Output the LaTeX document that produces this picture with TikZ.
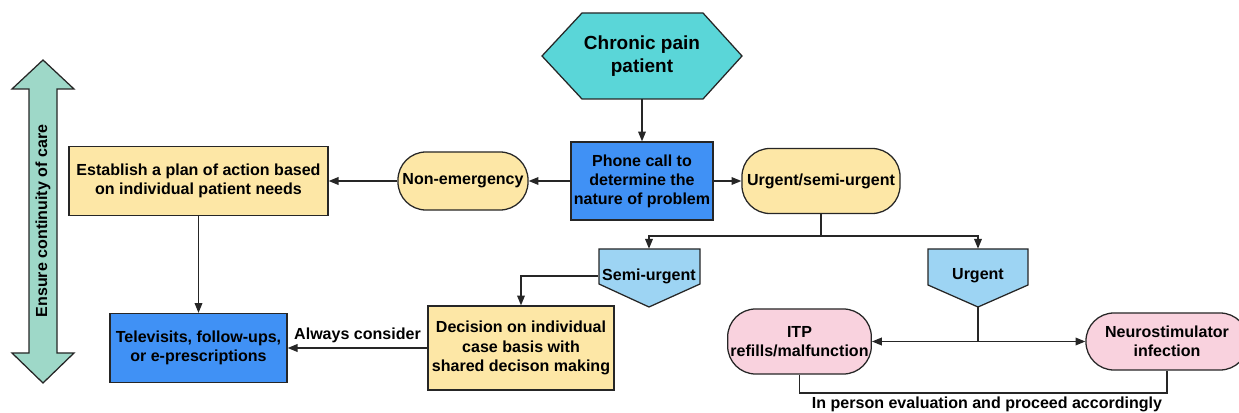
\documentclass[tikz,border=0pt]{standalone}
\usepackage{fontspec}
\setmainfont{Liberation Sans}
\usetikzlibrary{positioning,arrows.meta}

\definecolor{hexcyan}{RGB}{90,214,216}
\definecolor{callblue}{RGB}{64,145,245}
\definecolor{boxyellow}{RGB}{253,231,166}
\definecolor{pentblue}{RGB}{157,212,243}
\definecolor{itppink}{RGB}{249,210,222}
\definecolor{caremint}{RGB}{158,216,200}

\tikzset{
  squarebox/.style={draw=black!85,line width=0.9pt,align=center,inner sep=2pt,rectangle},
  pillbox/.style={draw=black!85,line width=0.9pt,align=center,inner sep=2pt,rounded corners=0.7cm},
  flow/.style={line width=0.9pt,draw=black!85,-{Triangle[length=7pt,width=5.5pt]}},
  link/.style={line width=0.9pt,draw=black!85},
}

\begin{document}
\begin{tikzpicture}[x=0.025cm,y=-0.025cm,font=\bfseries\fontsize{11.4}{13.6}\selectfont]
  \useasboundingbox (0,0) rectangle (1239,413);

  % Flecha doble lateral
  \draw[link,fill=caremint] (43,60) -- (74,89) -- (57,89) -- (57,353) -- (74,353) -- (43,383) -- (12,353) -- (29,353) -- (29,89) -- (12,89) -- cycle;
  \node[rotate=90] (care) at (43,221) {Ensure continuity of care};

  % Hexágono del paciente
  \draw[link,fill=hexcyan] (582,13) -- (703,13) -- (742,56) -- (703,99) -- (582,99) -- (542,56) -- cycle;
  \node[align=center,inner sep=0,minimum width=5cm,minimum height=2.15cm,font=\bfseries\fontsize{13.5}{16.4}\selectfont] (patient) at (642,56) {Chronic pain\\patient};

  % Fila central
  \node[squarebox,fill=callblue,minimum width=3.55cm,minimum height=1.95cm] (call) at (642,181) {Phone call to\\determine the\\nature of problem};
  \node[pillbox,fill=boxyellow,minimum width=3.25cm,minimum height=1.45cm] (nonemerg) at (463,181) {Non-emergency};
  \node[pillbox,fill=boxyellow,minimum width=3.95cm,minimum height=1.625cm] (urg) at (821,181) {Urgent/semi-urgent};
  \node[squarebox,fill=boxyellow,minimum width=6.475cm,minimum height=1.725cm] (plan) at (198.5,181) {Establish a plan of action based\\on individual patient needs};

  % Columna izquierda
  \node[squarebox,fill=callblue,minimum width=4.425cm,minimum height=1.725cm] (tele) at (198.5,348) {Televisits, follow-ups,\\or e-prescriptions};
  \node[squarebox,fill=boxyellow,minimum width=4.65cm,minimum height=2.1cm] (decision) at (521,348) {Decision on individual\\case basis with\\shared decison making};

  % Pentágonos
  \draw[link,fill=pentblue] (599,249) -- (700,249) -- (700,284) -- (649,307) -- (599,284) -- cycle;
  \node[inner sep=0,minimum width=2.525cm,minimum height=1.35cm] (semi) at (649,276) {Semi-urgent};
  \draw[link,fill=pentblue] (928,249) -- (1028,249) -- (1028,285) -- (978,307) -- (928,285) -- cycle;
  \node[inner sep=0,minimum width=2.5cm,minimum height=1.35cm] (urgent) at (978,276) {Urgent};
  \coordinate (utip) at (978,307);

  % Casos urgentes
  \node[pillbox,fill=itppink,minimum width=3.575cm,minimum height=1.625cm] (itp) at (799.5,341.5) {ITP\\refills/malfunction};
  \node[pillbox,fill=itppink,minimum width=4.05cm,minimum height=1.425cm] (neuro) at (1167,341.5) {Neurostimulator\\infection};

  % Conectores
  \draw[flow] (patient.south) -- (call.north);
  \draw[flow] (call.west) -- (nonemerg.east);
  \draw[flow] (call.east) -- (urg.west);
  \draw[flow] (nonemerg.west) -- (plan.east);
  \draw[flow] (plan.south) -- (tele.north);
  \draw[flow] (decision.west) -- node[above] {Always consider} (tele.east);

  \coordinate (split) at (821,236);
  \draw[link] (urg.south) -- (split);
  \draw[flow] (split) -| (semi.north);
  \draw[flow] (split) -| (urgent.north);
  \draw[flow] (semi.west) -| (decision.north);

  \coordinate (ujoin) at (978,341.5);
  \draw[link] (utip) -- (ujoin);
  \draw[flow] (ujoin) -- (itp.east);
  \draw[flow] (ujoin) -- (neuro.west);

  % Línea inferior
  \coordinate (bottom) at (983,393);
  \draw[link] (itp.south) |- (bottom) -| (neuro.south);
  \node (inperson) at (987,404) {In person evaluation and proceed accordingly};
\end{tikzpicture}
\end{document}
